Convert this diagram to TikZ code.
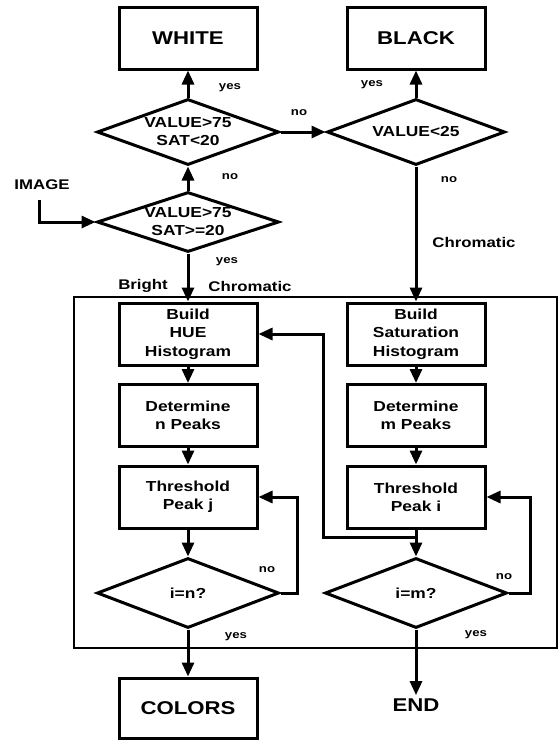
\documentclass[tikz,border=0pt]{standalone}
\usepackage{fontspec}
\setmainfont{Liberation Sans}[FakeStretch=1.2]
\usetikzlibrary{arrows.meta,shapes.geometric}
\begin{document}
\begin{tikzpicture}[x=1pt,y=-1pt,
 box/.style={draw,line width=3pt,minimum width=138pt,minimum height=62pt,align=center,inner sep=0pt,font=\bfseries\fontsize{14.5}{18.3}\selectfont},
 bigbox/.style={box,font=\bfseries\fontsize{18.5}{20}\selectfont},
 dec/.style={draw,diamond,aspect=3.2,line width=3pt,inner sep=0pt,minimum width=182pt,align=center,font=\bfseries\fontsize{14.5}{18}\selectfont},
 lab/.style={font=\bfseries\fontsize{11}{12}\selectfont},
 clab/.style={font=\bfseries\fontsize{14}{16}\selectfont},
 flow/.style={line width=3pt,-{Triangle[length=14pt,width=12pt]}},
 plain/.style={line width=3pt}
]
\useasboundingbox (0,0) rectangle (559,740);
\node[draw,line width=1.4pt,minimum width=483pt,minimum height=351pt,inner sep=0pt] (frame) at (315.5,472.5) {};

\node[bigbox] (white) at (188,38) {WHITE};
\node[bigbox] (black) at (416,38) {BLACK};
\node[dec,minimum height=66pt] (d1) at (188,132) {VALUE>75\\SAT<20};
\node[dec,minimum height=66pt,minimum width=178pt] (d2) at (416,132) {VALUE<25};
\node[dec,minimum height=60pt] (d3) at (188,222) {VALUE>75\\SAT>=20};
\node[clab] (image) at (42,185) {IMAGE};

\node[box] (hue) at (188,334) {Build\\HUE\\Histogram};
\node[box] (detn) at (188,415.5) {Determine\\n Peaks};
\node[box] (thrj) at (188,497) {Threshold\\Peak j};
\node[dec,minimum height=70pt] (dn) at (188,593) {i=n?};
\node[bigbox,minimum height=60pt] (colors) at (188,708) {COLORS};

\node[box] (sat) at (416,334) {Build\\Saturation\\Histogram};
\node[box] (detm) at (416,415.5) {Determine\\m Peaks};
\node[box] (thri) at (416,497) {Threshold\\Peak i};
\node[dec,minimum height=70pt] (dm) at (416,593) {i=m?};
\node[font=\bfseries\fontsize{18.5}{20}\selectfont] (end) at (416,705) {END};

% connectors
\coordinate (imgstart) at (39,200);
\draw[flow] (imgstart) |- (d3.west);
\draw[flow] (d3.north) -- (d1.south);
\draw[flow] (d1.north) -- (white.south);
\draw[flow] (d1.east) -- (d2.west);
\draw[flow] (d2.north) -- (black.south);
\draw[flow] (d2.south) -- (sat.north);
\draw[flow] (d3.south) -- (hue.north);

\draw[flow] (hue) -- (detn);
\draw[flow] (detn) -- (thrj);
\draw[flow] (thrj) -- (dn);
\draw[flow] (sat) -- (detm);
\draw[flow] (detm) -- (thri);
\draw[flow] (thri.south) -- (dm.north);

\coordinate (jn) at (416,537);
\coordinate (lp) at (323,537);
\draw[flow] (jn) -- (lp) |- (hue.east);

\coordinate (nl) at (297,593);
\draw[flow] (dn.east) -- (nl) |- (thrj.east);
\coordinate (nr) at (530,593);
\draw[flow] (dm.east) -- (nr) |- (thri.east);

\draw[flow] (dn.south) -- (colors.north);
\draw[flow] (dm.south) -- (end.north);

% labels
\node[lab] (l1) at (230,88) {yes};
\node[lab] (l2) at (299,113) {no};
\node[lab] (l3) at (372,85) {yes};
\node[lab] (l4) at (230,177) {no};
\node[lab] (l5) at (449,180) {no};
\node[clab] (l6) at (474,242) {Chromatic};
\node[lab] (l7) at (227,262) {yes};
\node[clab] (l8) at (143,286) {Bright};
\node[clab] (l9) at (250,286) {Chromatic};
\node[lab] (l10) at (267,570) {no};
\node[lab] (l11) at (504,577) {no};
\node[lab] (l12) at (236,637) {yes};
\node[lab] (l13) at (476,635) {yes};
\end{tikzpicture}
\end{document}
